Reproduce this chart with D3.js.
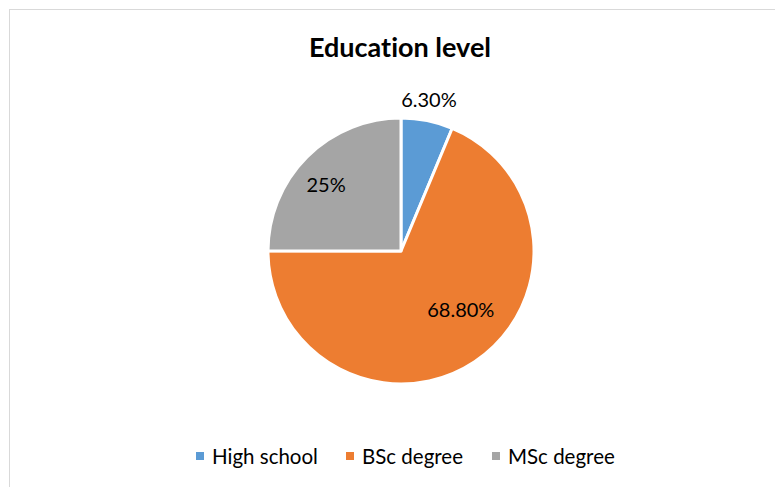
<!DOCTYPE html>
<html>
<head>
<meta charset="utf-8">
<script src="https://cdn.jsdelivr.net/npm/d3@7"></script>
<style>
  html, body { margin: 0; padding: 0; background: #fff; }
  svg { display: block; }
  text { font-variant-ligatures: none; font-feature-settings: "liga" 0, "dlig" 0; }
</style>
</head>
<body>
<svg id="chart" width="775" height="487"></svg>
<script>
// Education level shares
const categories = ["High school", "BSc degree", "MSc degree"];
const values = [6.3, 68.8, 25];
const valueLabels = ["6.30%", "68.80%", "25%"];
const colors = ["#5B9BD5", "#ED7D31", "#A5A5A5"];
const title = "Education level";

const svg = d3.select("#chart");
const font = "Lato, 'Open Sans', sans-serif";

// chart area frame
svg.append("rect")
  .attr("x", 9.5).attr("y", 9.5)
  .attr("width", 800).attr("height", 500)
  .attr("fill", "#fff")
  .attr("stroke", "#d9d9d9")
  .attr("stroke-width", 1);

svg.append("text")
  .attr("x", 400).attr("y", 57)
  .attr("text-anchor", "middle")
  .attr("font-family", font)
  .attr("font-weight", "bold")
  .attr("font-size", 27)
  .attr("fill", "#000")
  .text(title);

const cx = 401, cy = 251, R = 133;
const pie = d3.pie().sort(null).value(d => d)(values);
const arc = d3.arc().innerRadius(0).outerRadius(R);

const g = svg.append("g").attr("transform", `translate(${cx},${cy})`);

g.selectAll("path.slice")
  .data(pie)
  .join("path")
  .attr("class", "slice")
  .attr("d", arc)
  .attr("fill", (d, i) => colors[i])
  .attr("stroke", "#fff")
  .attr("stroke-width", 3)
  .attr("stroke-linejoin", "round");

// label placement: radius along the slice mid-angle, with an angle nudge (radians)
const labelRadius = [154.5, 83, 100.5];
const labelAngleShift = [-0.016, -0.218, -0.056];
g.selectAll("text.lbl")
  .data(pie)
  .join("text")
  .attr("class", "lbl")
  .attr("text-anchor", "middle")
  .attr("dominant-baseline", "central")
  .attr("font-family", font)
  .attr("font-size", 20)
  .attr("fill", "#000")
  .attr("transform", (d, i) => {
    const a = (d.startAngle + d.endAngle) / 2 + labelAngleShift[i];
    const r = labelRadius[i];
    return `translate(${r * Math.sin(a)},${-r * Math.cos(a)})`;
  })
  .text((d, i) => valueLabels[i]);

// legend
const legendX = [196, 346, 492];
const legend = svg.append("g");
categories.forEach((c, i) => {
  legend.append("rect")
    .attr("x", legendX[i]).attr("y", 452)
    .attr("width", 8).attr("height", 8)
    .attr("fill", colors[i]);
  legend.append("text")
    .attr("x", legendX[i] + 16).attr("y", 463.5)
    .attr("font-family", font)
    .attr("font-size", 20.5)
    .attr("fill", "#000")
    .text(c);
});
</script>
</body>
</html>
